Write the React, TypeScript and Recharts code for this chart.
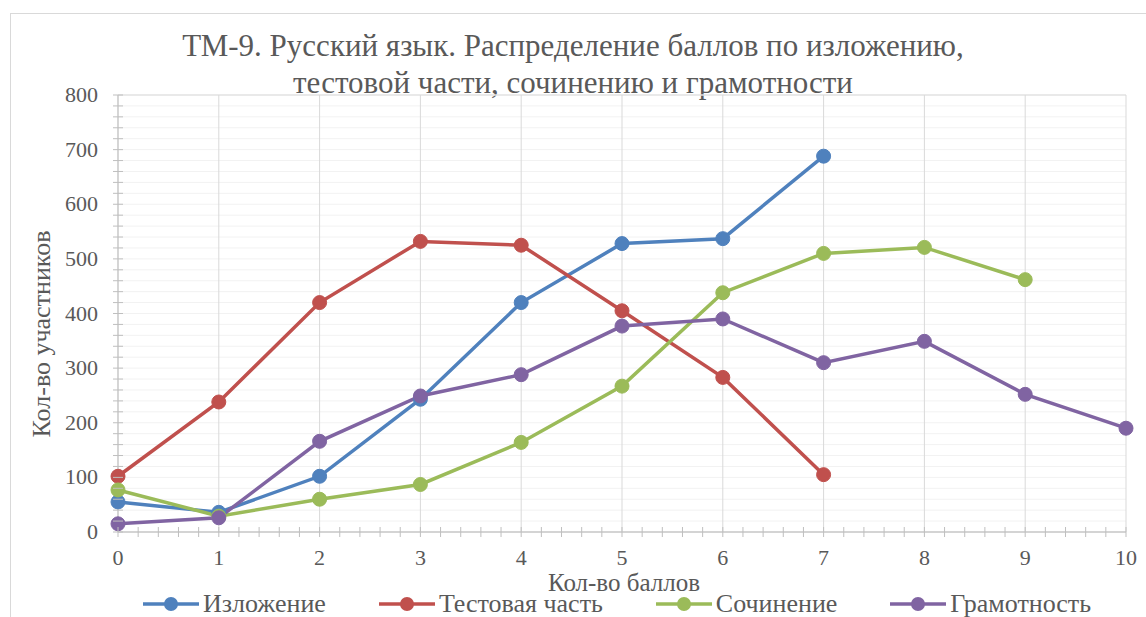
import { LineChart, Line, XAxis, YAxis, CartesianGrid } from "recharts";

const scores = [0, 1, 2, 3, 4, 5, 6, 7, 8, 9, 10];
const izlozhenie = [55, 36, 102, 243, 420, 528, 537, 688];
const testovaya = [102, 238, 420, 532, 525, 405, 283, 105];
const sochinenie = [77, 29, 60, 87, 164, 267, 438, 510, 521, 462];
const gramotnost = [15, 26, 166, 249, 288, 377, 390, 310, 349, 252, 190];

const xTicks = [0, 1, 2, 3, 4, 5, 6, 7, 8, 9, 10];
const yTicks = [0, 100, 200, 300, 400, 500, 600, 700, 800];
const xMinorTicks = Array.from({ length: 51 }, (_, i) => +(i * 0.2).toFixed(1));
const yMinorTicks = Array.from({ length: 41 }, (_, i) => i * 20);

const TITLE = [
  "ТМ-9. Русский язык. Распределение баллов по изложению,",
  "тестовой части, сочинению и грамотности",
];

const SERIES = [
  { key: "izl", name: "Изложение", color: "#4f81bd", values: izlozhenie },
  { key: "test", name: "Тестовая часть", color: "#c0504d", values: testovaya },
  { key: "soch", name: "Сочинение", color: "#9bbb59", values: sochinenie },
  { key: "gram", name: "Грамотность", color: "#8064a2", values: gramotnost },
];

const data = scores.map((s, i) => {
  const row: Record<string, number | undefined> = { score: s };
  SERIES.forEach((ser) => {
    row[ser.key] = ser.values[i];
  });
  return row;
});

const FONT = "'Liberation Serif', 'DejaVu Serif', 'Noto Serif', Tinos, serif";
const TEXT = "#595959";
const AXIS = "#bfbfbf";

const isWhole = (v: number, step: number) =>
  Math.abs(v / step - Math.round(v / step)) < 1e-6;

function XTick(props: any) {
  const { x, y, payload } = props;
  const v = payload.value as number;
  return (
    <g>
      <line x1={x} x2={x} y1={y - 5} y2={y + 5} stroke={AXIS} strokeWidth={1} />
      {isWhole(v, 1) && (
        <text x={x} y={y + 33} textAnchor="middle" fill={TEXT} fontSize={22} style={{ fontFamily: FONT }}>
          {v}
        </text>
      )}
    </g>
  );
}

function YTick(props: any) {
  const { x, y, payload } = props;
  const v = payload.value as number;
  return (
    <g>
      <line x1={x - 5} x2={x + 5} y1={y} y2={y} stroke={AXIS} strokeWidth={1} />
      {isWhole(v, 100) && (
        <text x={x - 20} y={y + 7} textAnchor="end" fill={TEXT} fontSize={22} style={{ fontFamily: FONT }}>
          {v}
        </text>
      )}
    </g>
  );
}

export default function App() {
  return (
    <div
      style={{
        position: "absolute",
        left: 0,
        top: 0,
        width: 1146,
        height: 617,
        overflow: "hidden",
        background: "#fff",
        fontFamily: FONT,
      }}
    >
      <div
        style={{
          position: "absolute",
          left: 10,
          top: 13,
          width: 1300,
          height: 800,
          border: "1px solid #d9d9d9",
        }}
      />
      <div
        style={{
          position: "absolute",
          left: 0,
          top: 27,
          width: 1146,
          textAlign: "center",
          fontSize: 31,
          lineHeight: "37px",
          color: TEXT,
        }}
      >
        {TITLE.map((t) => (
          <div key={t}>{t}</div>
        ))}
      </div>
      <div style={{ position: "absolute", left: 0, top: 0 }}>
        <LineChart
          width={1146}
          height={617}
          data={data}
          margin={{ top: 95, right: 20, bottom: 55, left: 58 }}
        >
          <CartesianGrid xAxisId="main" yAxisId="main" vertical={false} stroke="#f2f2f2" strokeWidth={1} />
          <CartesianGrid xAxisId="major" yAxisId="major" stroke="#d9d9d9" strokeWidth={1} />
          <XAxis
            xAxisId="major"
            dataKey="score"
            type="number"
            domain={[0, 10]}
            ticks={xTicks}
            hide
          />
          <YAxis yAxisId="major" type="number" domain={[0, 800]} ticks={yTicks} hide />
          <XAxis
            xAxisId="main"
            dataKey="score"
            type="number"
            domain={[0, 10]}
            ticks={xMinorTicks}
            interval={0}
            height={30}
            stroke={AXIS}
            tickLine={false}
            tickSize={0}
            tickMargin={0}
            tick={<XTick />}
          />
          <YAxis
            yAxisId="main"
            type="number"
            domain={[0, 800]}
            ticks={yMinorTicks}
            interval={0}
            width={60}
            stroke={AXIS}
            tickLine={false}
            tickSize={0}
            tickMargin={0}
            tick={<YTick />}
          />
          {SERIES.map((s) => (
            <Line
              key={s.key}
              xAxisId="main"
              yAxisId="main"
              dataKey={s.key}
              name={s.name}
              type="linear"
              stroke={s.color}
              strokeWidth={3.5}
              dot={{ r: 7, fill: s.color, stroke: s.color, strokeWidth: 1 }}
              activeDot={false}
              isAnimationActive={false}
            />
          ))}
        </LineChart>
      </div>
      <div
        style={{
          position: "absolute",
          left: 42,
          top: 334,
          transform: "translate(-50%, -50%) rotate(-90deg)",
          whiteSpace: "nowrap",
          fontSize: 26,
          color: TEXT,
        }}
      >
        Кол-во участников
      </div>
      <div
        style={{
          position: "absolute",
          left: 624,
          top: 582,
          transform: "translate(-50%, -50%)",
          whiteSpace: "nowrap",
          fontSize: 25,
          lineHeight: "25px",
          color: TEXT,
        }}
      >
        Кол-во баллов
      </div>
      <div
        style={{
          position: "absolute",
          left: 143,
          top: 593,
          display: "flex",
          gap: 53,
          whiteSpace: "nowrap",
          fontSize: 26,
          color: TEXT,
          lineHeight: "22px",
        }}
      >
        {SERIES.map((s) => (
          <div key={s.key} style={{ display: "flex", alignItems: "center" }}>
            <svg width={56} height={16} style={{ marginRight: 4 }}>
              <line x1={0} x2={56} y1={8} y2={8} stroke={s.color} strokeWidth={3.5} />
              <circle cx={28} cy={8} r={7} fill={s.color} />
            </svg>
            <span>{s.name}</span>
          </div>
        ))}
      </div>
    </div>
  );
}
